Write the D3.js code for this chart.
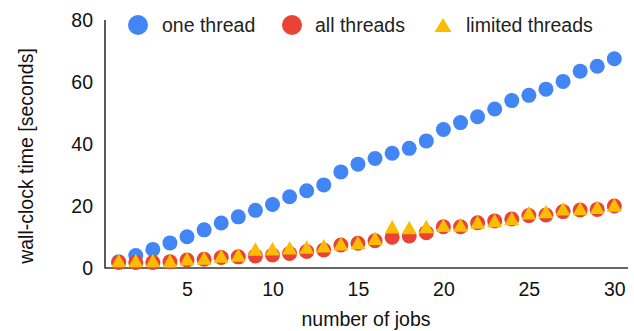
<!DOCTYPE html>
<html><head><meta charset="utf-8">
<script src="https://cdn.jsdelivr.net/npm/d3@7"></script>
<style>
html,body{margin:0;padding:0;background:#fff;}
text{font-family:Arial,"Liberation Sans",sans-serif;}
</style></head>
<body><svg id="chart" width="634" height="331"></svg>
<script>
const jobs = d3.range(1, 31);
const oneThread = [2.0,4.0,6.0,8.1,10.1,12.3,14.5,16.5,18.6,20.5,23.0,24.9,26.8,31.0,33.5,35.3,37.0,38.6,41.0,44.7,46.9,48.8,51.3,54.0,55.7,57.7,60.2,63.5,65.1,67.5];
const allThreads = [1.8,1.8,1.8,2.0,2.6,2.8,3.4,3.6,3.9,4.2,4.7,5.3,5.8,7.4,8.0,8.8,9.9,10.3,11.4,13.3,13.3,14.6,15.2,15.8,16.9,17.1,18.2,18.7,18.9,20.0];
const limitedThreads = [2.4,2.4,2.4,2.3,3.0,3.2,3.9,4.2,6.1,6.2,6.5,6.8,7.2,7.8,8.2,9.6,13.3,13.1,13.4,13.8,13.9,14.8,15.3,16.0,17.8,18.2,19.1,19.2,19.6,20.3];
const yTicks = [0,20,40,60,80];
const xTicks = [5,10,15,20,25,30];
const seriesNames = ["one thread","all threads","limited threads"];
const colors = ["#4285F4","#EA4335","#FBBC04"];

const svg = d3.select("#chart");
const x = d3.scaleLinear().domain([0.2, 30.8]).range([105, 628]);
const y = d3.scaleLinear().domain([0, 80]).range([268, 20]);
const FS = "19.5px";
const FF = "Arial,'Liberation Sans',sans-serif";

const yAx = svg.append("g").attr("transform","translate(93,0)")
  .call(d3.axisLeft(y).tickValues(yTicks).tickSize(0).tickPadding(0));
yAx.select(".domain").remove();
yAx.selectAll("text").attr("font-size",FS).attr("fill","#111").attr("font-family",FF);

const xAx = svg.append("g").attr("transform","translate(0,268)")
  .call(d3.axisBottom(x).tickValues(xTicks).tickSize(0).tickPadding(14));
xAx.select(".domain").remove();
xAx.selectAll("text").attr("font-size",FS).attr("fill","#111").attr("font-family",FF);

svg.append("line").attr("x1",105).attr("x2",105).attr("y1",y(80)).attr("y2",y(0)+0.5)
  .attr("stroke","#333").attr("stroke-width",1.6);
svg.append("line").attr("x1",105).attr("x2",628).attr("y1",y(0)).attr("y2",y(0))
  .attr("stroke","#333").attr("stroke-width",1.6);

svg.append("text").attr("transform","translate(33,156) rotate(-90)")
  .attr("text-anchor","middle").attr("font-size",FS).attr("fill","#111").text("wall-clock time [seconds]");
svg.append("text").attr("x",366).attr("y",326)
  .attr("text-anchor","middle").attr("font-size",FS).attr("fill","#111").text("number of jobs");

function tri(cx, cy, w, h){
  return `M${cx},${cy-h/2}L${cx+w/2},${cy+h/2}L${cx-w/2},${cy+h/2}Z`;
}

const plot = svg.append("g");
plot.selectAll("circle.one").data(jobs).enter().append("circle")
  .attr("cx",(d)=>x(d)).attr("cy",(d,i)=>y(oneThread[i])).attr("r",7.5).attr("fill",colors[0]);
plot.selectAll("circle.all").data(jobs).enter().append("circle")
  .attr("cx",(d)=>x(d)).attr("cy",(d,i)=>y(allThreads[i])).attr("r",7.5).attr("fill",colors[1]);
plot.selectAll("path.lim").data(jobs).enter().append("path")
  .attr("d",(d,i)=>tri(x(d), y(limitedThreads[i]), 15, 13.5)).attr("fill",colors[2]);

const leg = svg.append("g");
leg.append("circle").attr("cx",138).attr("cy",25).attr("r",10).attr("fill",colors[0]);
leg.append("text").attr("x",162).attr("y",31.5).attr("font-size",FS).attr("fill","#222").text(seriesNames[0]);
leg.append("circle").attr("cx",292).attr("cy",25).attr("r",10).attr("fill",colors[1]);
leg.append("text").attr("x",315).attr("y",31.5).attr("font-size",FS).attr("fill","#222").text(seriesNames[1]);
leg.append("path").attr("d",tri(443,25,17,14)).attr("fill",colors[2]);
leg.append("text").attr("x",466).attr("y",31.5).attr("font-size",FS).attr("fill","#222").text(seriesNames[2]);
</script></body></html>
